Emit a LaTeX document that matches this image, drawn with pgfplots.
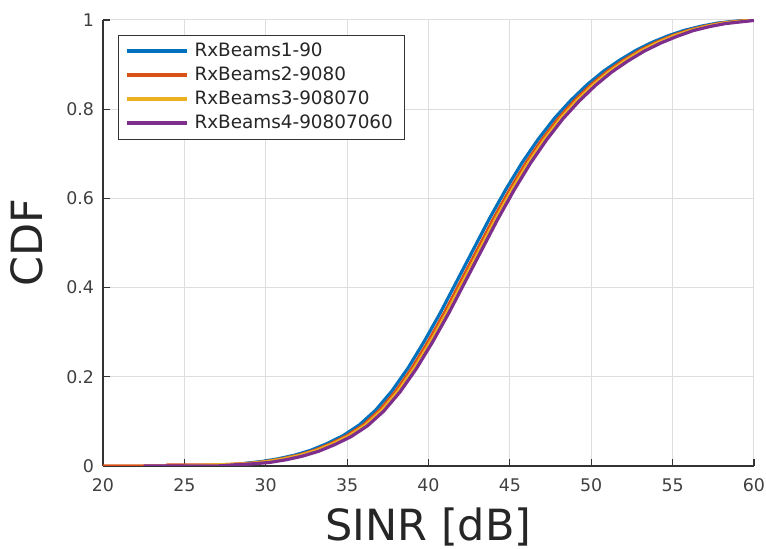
\documentclass[border=0pt]{standalone}
\usepackage{pgfplots}
\pgfplotsset{compat=1.18}
\usepackage{fontspec}
\setmainfont{DejaVu Sans}
\definecolor{mblue}{rgb}{0,0.447,0.741}
\definecolor{morange}{rgb}{0.85,0.325,0.098}
\definecolor{myellow}{rgb}{0.929,0.694,0.125}
\definecolor{mpurple}{rgb}{0.494,0.184,0.556}
\begin{document}
\begin{tikzpicture}
\path[use as bounding box] (-51.5pt,-41.5pt) rectangle (331.5pt,233pt);
\begin{axis}[
  at={(0,0)}, anchor=origin,
  scale only axis, width=325.5pt, height=223pt,
  xmin=20, xmax=60, ymin=0, ymax=1,
  xtick={20,25,...,60}, ytick={0,0.2,...,1},
  axis x line*=bottom, axis y line*=left,
  axis line style={black!80, line width=0.6pt},
  tick style={black!80, line width=0.6pt},
  tick align=inside, major tick length=3.5pt,
  grid=major, major grid style={black!13, line width=0.5pt},
  /pgf/number format/assume math mode=true,
  ticklabel style={font=\fontsize{8.7}{10}\selectfont, text=black!75},
  xticklabel style={yshift=-3pt},
  yticklabel style={xshift=-1pt},
  xlabel={SINR [dB]}, ylabel={CDF},
  label style={font=\fontsize{21.5}{24}\selectfont, text=black!85},
  xlabel style={at={(axis description cs:0.5,0)}, anchor=base, yshift=-37.3pt},
  ylabel style={at={(axis description cs:0,0.5)}, anchor=base, yshift=30pt},
  legend style={at={(rel axis cs:0,1)}, anchor=north west, xshift=7.5pt, yshift=-7.5pt,
    font=\fontsize{9.2}{11}\selectfont, draw=black!80, line width=0.5pt,
    inner xsep=3pt, inner ysep=2pt, text=black!85,
    nodes={text height=7pt, text depth=2pt, inner ysep=1.5pt, inner xsep=3pt}},
  legend cell align=left,
  legend image code/.code={\draw[#1, line width=2pt] (0pt,0pt) -- (30pt,0pt);},
]
\addplot[mblue, line width=1.6pt] table {
x y
28.2 0
28.75 0.006
29.75 0.01
30.75 0.016
31.75 0.024
32.75 0.035
33.75 0.05
34.75 0.068
35.75 0.092
36.75 0.125
37.75 0.168
38.75 0.22
39.75 0.28
40.75 0.345
41.75 0.415
42.75 0.485
43.75 0.555
44.75 0.62
45.75 0.68
46.75 0.733
47.75 0.78
48.75 0.82
49.75 0.855
50.75 0.885
51.75 0.91
52.75 0.932
53.75 0.95
54.75 0.965
55.75 0.977
56.75 0.986
57.75 0.993
58.75 0.997
59.75 1.0
60 1.0
};
\addlegendentry{RxBeams1-90}
\addplot[morange, line width=1.6pt] table {
x y
20 0
24 0
24 0.002
27 0.002
28 0.004
29 0.006
30 0.01
31 0.016
32 0.024
33 0.035
34 0.05
35 0.068
36 0.092
37 0.125
38 0.168
39 0.22
40 0.28
41 0.345
42 0.415
43 0.485
44 0.555
45 0.62
46 0.68
47 0.733
48 0.78
49 0.82
50 0.855
51 0.885
52 0.91
53 0.932
54 0.95
55 0.965
56 0.977
57 0.986
58 0.993
59 0.997
60 1.0
};
\addlegendentry{RxBeams2-9080}
\addplot[myellow, line width=1.6pt] table {
x y
25 0
28.15 0.004
29.15 0.006
30.15 0.01
31.15 0.016
32.15 0.024
33.15 0.035
34.15 0.05
35.15 0.068
36.15 0.092
37.15 0.125
38.15 0.168
39.15 0.22
40.15 0.28
41.15 0.345
42.15 0.415
43.15 0.485
44.15 0.555
45.15 0.62
46.15 0.68
47.15 0.733
48.15 0.78
49.15 0.82
50.15 0.855
51.15 0.885
52.15 0.91
53.15 0.932
54.15 0.95
55.15 0.965
56.15 0.977
57.15 0.986
58.15 0.993
59.15 0.997
60 1.0
};
\addlegendentry{RxBeams3-908070}
\addplot[mpurple, line width=1.6pt] table {
x y
22.5 0
27 0
28.25 0.003
29.25 0.005
30.25 0.008
31.25 0.014
32.25 0.022
33.25 0.033
34.25 0.048
35.25 0.066
36.25 0.09
37.25 0.123
38.25 0.166
39.25 0.218
40.25 0.278
41.25 0.343
42.25 0.413
43.25 0.483
44.25 0.553
45.25 0.618
46.25 0.678
47.25 0.731
48.25 0.778
49.25 0.818
50.25 0.853
51.25 0.883
52.25 0.908
53.25 0.93
54.25 0.948
55.25 0.963
56.25 0.976
57.25 0.985
58.25 0.992
59.25 0.996
60 0.999
};
\addlegendentry{RxBeams4-90807060}
\end{axis}
\end{tikzpicture}
\end{document}
